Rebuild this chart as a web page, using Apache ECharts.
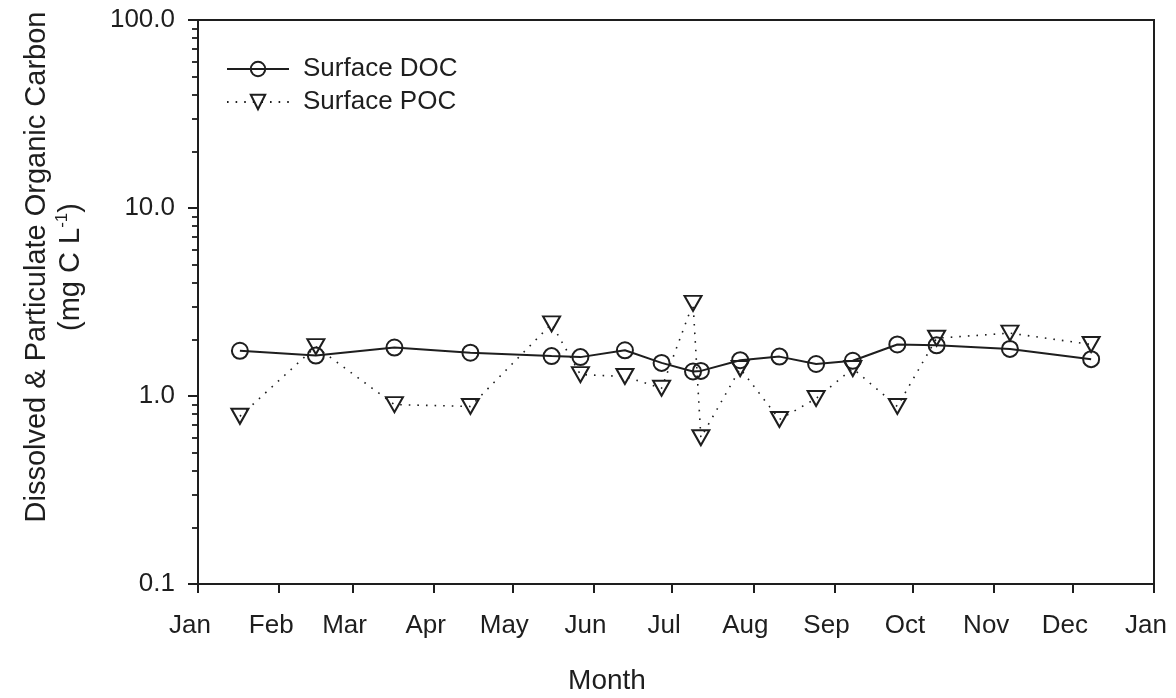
<!DOCTYPE html>
<html>
<head>
<meta charset="utf-8">
<script src="https://cdn.jsdelivr.net/npm/echarts@6/dist/echarts.min.js"></script>
<style>
  html, body { margin: 0; padding: 0; background: #fff; }
  #chart { width: 1176px; height: 698px; }
</style>
</head>
<body>
<div id="chart"></div>
<script>
// ---- data ----
var monthLabels = ['Jan','Feb','Mar','Apr','May','Jun','Jul','Aug','Sep','Oct','Nov','Dec','Jan'];
var sampleDates = ['2001-01-17','2001-02-15','2001-03-17','2001-04-15','2001-05-16','2001-05-27',
                   '2001-06-13','2001-06-27','2001-07-09','2001-07-12','2001-07-27','2001-08-11',
                   '2001-08-25','2001-09-08','2001-09-25','2001-10-10','2001-11-07','2001-12-08'];
var docValues = [1.74,1.64,1.81,1.70,1.63,1.61,1.75,1.50,1.35,1.36,1.55,1.62,1.48,1.54,1.88,1.86,1.78,1.57];
var pocValues = [0.78,1.83,0.90,0.88,2.42,1.30,1.27,1.10,3.11,0.60,1.40,0.75,0.97,1.40,0.88,2.03,2.16,1.88];
var yMajorTicks = [0.1, 1, 10, 100];
var yMinorTicks = [0.2,0.3,0.4,0.5,0.6,0.7,0.8,0.9, 2,3,4,5,6,7,8,9, 20,30,40,50,60,70,80,90];
var seriesNames = ['Surface DOC', 'Surface POC'];
var yTitleLine1 = 'Dissolved & Particulate Organic Carbon';
var xTitle = 'Month';

// ---- build ----
function toTime(s) { var p = s.split('-'); return new Date(+p[0], +p[1] - 1, +p[2]).getTime(); }
var monthTicks = [];
for (var m = 0; m <= 12; m++) monthTicks.push(new Date(2001, m, 1).getTime());

var FONT = 'Liberation Sans, Arial, Helvetica, sans-serif';
var INK = '#1e1e1e';

var chart = echarts.init(document.getElementById('chart'));
chart.setOption({
  animation: false,
  backgroundColor: '#fff',
  textStyle: { fontFamily: FONT, color: INK },
  grid: { left: 198, right: 22, top: 20, bottom: 114, show: true, borderColor: INK, borderWidth: 2, backgroundColor: 'transparent' },
  legend: {
    orient: 'vertical', left: 221, top: 51,
    itemWidth: 62, itemHeight: 18, itemGap: 7,
    textStyle: { fontSize: 26, color: INK, fontFamily: FONT, padding: [0, 0, 0, 9] },
    data: seriesNames
  },
  xAxis: {
    type: 'value',
    min: monthTicks[0], max: monthTicks[12],
    axisLine: { show: true, lineStyle: { color: INK, width: 2 } },
    axisTick: { show: true, inside: false, length: 9, lineStyle: { color: INK, width: 2 }, customValues: monthTicks },
    axisLabel: {
      fontSize: 26, color: INK, margin: 29, fontFamily: FONT, padding: [0, 16, 0, 0],
      customValues: monthTicks, showMinLabel: true, showMaxLabel: true,
      formatter: function (v) {
        var i = monthTicks.indexOf(v);
        return i >= 0 ? monthLabels[i] : monthLabels[new Date(v).getMonth()];
      }
    },
    splitLine: { show: false }
  },
  yAxis: [{
    type: 'log', logBase: 10, min: 0.1, max: 100,
    axisLine: { show: true, lineStyle: { color: INK, width: 2 } },
    axisTick: { show: true, inside: false, length: 10, lineStyle: { color: INK, width: 2 }, customValues: yMajorTicks },
    axisLabel: {
      fontSize: 26, color: INK, margin: 23, fontFamily: FONT, customValues: yMajorTicks,
      formatter: function (v) { return Number(v).toFixed(1); }
    },
    splitLine: { show: false }
  }, {
    type: 'log', logBase: 10, min: 0.1, max: 100, position: 'left', offset: 0,
    axisLine: { show: false },
    axisTick: { show: true, inside: false, length: 6, lineStyle: { color: INK, width: 1.8 }, customValues: yMinorTicks },
    axisLabel: { show: false },
    splitLine: { show: false }
  }],
  graphic: [{
    type: 'text',
    x: 54, y: 267,
    rotation: Math.PI / 2,
    style: {
      text: yTitleLine1 + '\n{n|(mg C L}{s|-1}{n|)}',
      font: '29px ' + FONT,
      fill: INK,
      align: 'center', verticalAlign: 'middle',
      lineHeight: 34,
      rich: {
        n: { fontSize: 29, fontFamily: FONT, fill: INK, lineHeight: 34 },
        s: { fontSize: 17, fontFamily: FONT, fill: INK, lineHeight: 34, verticalAlign: 'top', padding: [0, 0, 12, 0] }
      }
    }
  }, {
    type: 'text',
    x: 607, y: 681,
    style: {
      text: xTitle,
      font: '28px ' + FONT,
      fill: INK,
      align: 'center', verticalAlign: 'middle'
    }
  }],
  series: [{
    name: seriesNames[0],
    type: 'line',
    data: sampleDates.map(function (d, i) { return [toTime(d), docValues[i]]; }),
    symbol: 'circle', symbolSize: 16,
    lineStyle: { color: INK, width: 2, type: 'solid' },
    itemStyle: { color: 'rgba(0,0,0,0)', borderColor: INK, borderWidth: 2 },
    z: 3
  }, {
    name: seriesNames[1],
    type: 'line',
    data: sampleDates.map(function (d, i) { return [toTime(d), pocValues[i]]; }),
    symbol: 'triangle', symbolRotate: 180, symbolSize: [17, 15],
    lineStyle: { color: INK, width: 1.6, type: [1.6, 7] },
    itemStyle: { color: 'rgba(0,0,0,0)', borderColor: INK, borderWidth: 2 },
    z: 4
  }]
});
</script>
</body>
</html>
